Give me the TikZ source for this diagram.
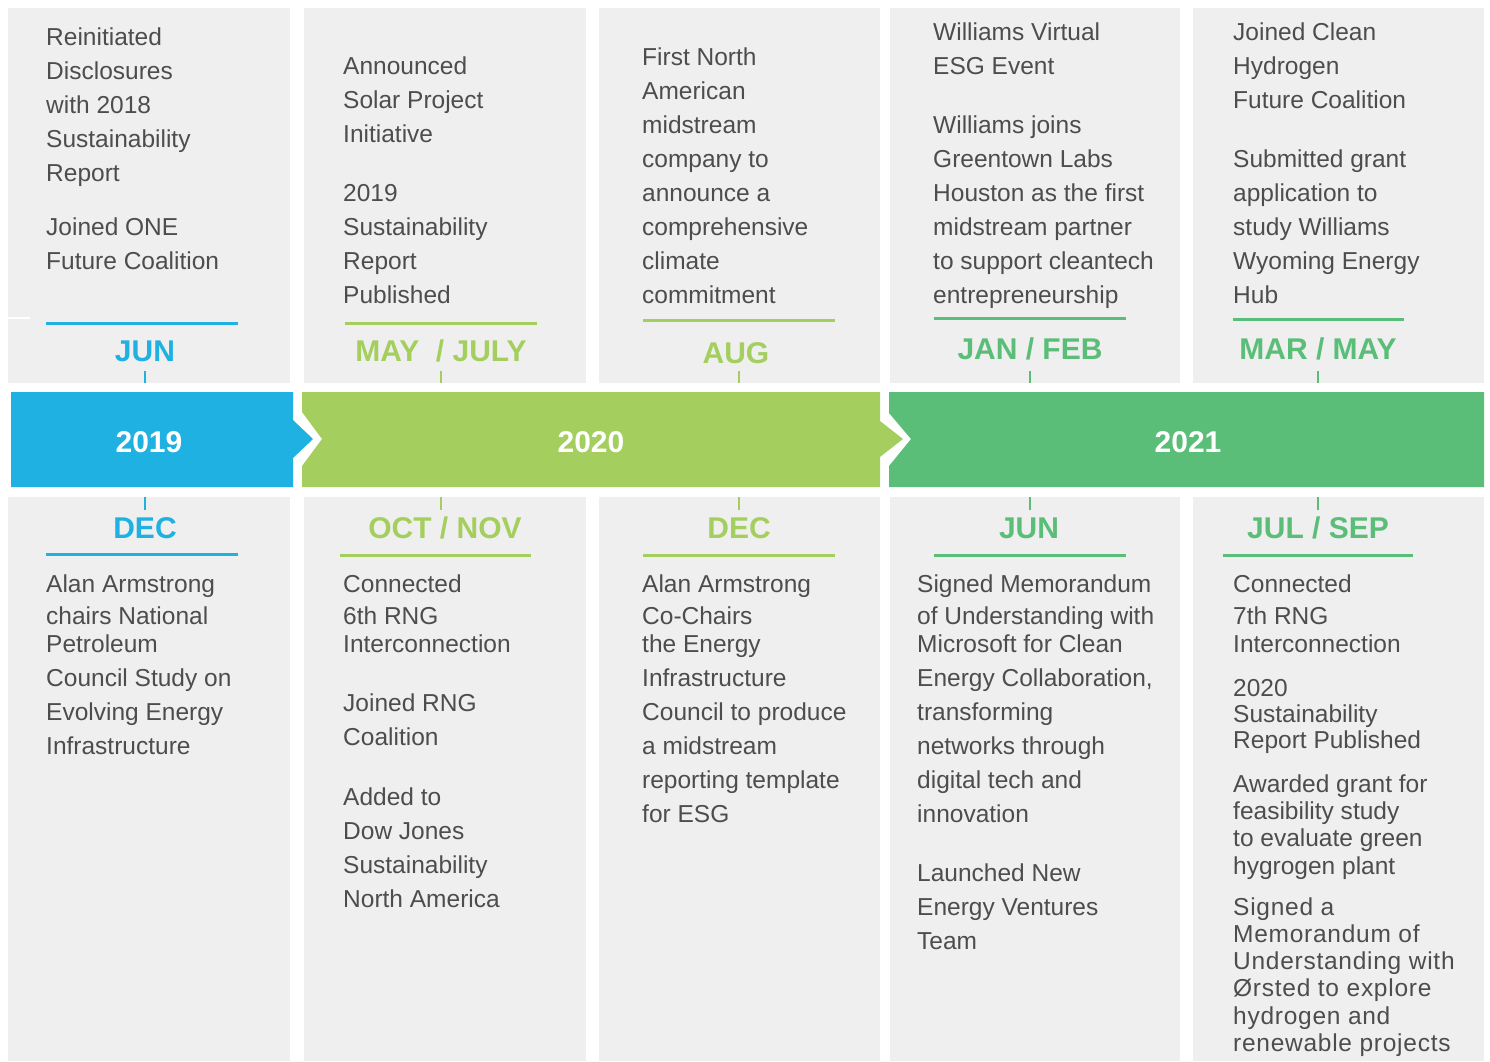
\documentclass[tikz,border=0pt]{standalone}
\usepackage{fontspec}
\setmainfont{Liberation Sans}
\newfontfamily\spacedfont[LetterSpace=3]{Liberation Sans}
\definecolor{panel}{HTML}{EFEFEF}
\definecolor{txtgray}{HTML}{4D4D4D}
\definecolor{cblue}{HTML}{1EB1E2}
\definecolor{clgreen}{HTML}{A4CF5F}
\definecolor{cdgreen}{HTML}{5BBE78}
\tikzset{
  txt/.style={anchor=base west, inner sep=0pt, text=txtgray, font=\fontsize{24.5}{30}\selectfont},
  stxt/.style={txt, font=\fontsize{24.5}{30}\spacedfont},
  month/.style={inner sep=0pt, font=\fontsize{30}{34}\selectfont\bfseries},
  year/.style={inner sep=0pt, text=white, font=\fontsize{30}{34}\selectfont\bfseries},
  rule/.style={line width=3pt},
  tick/.style={line width=2.5pt},
  pan/.style={fill=panel, draw=none}
}
\begin{document}
\begin{tikzpicture}[x=1pt,y=-1pt]
\useasboundingbox (0,0) rectangle (1490,1061);
% panels
\foreach \a/\b in {8/290, 304/586, 599/880, 890/1180, 1193/1484}{
  \fill[pan] (\a,8) rectangle (\b,383);
  \fill[pan] (\a,497) rectangle (\b,1061);
}
\draw[white, line width=2pt] (8,318) -- (30,318);
% timeline bar
\fill[cblue] (11,392) -- (293,392) -- (293,420) -- (313,439) -- (293,458) -- (293,487) -- (11,487) -- cycle;
\fill[clgreen] (302,392) -- (880,392) -- (880,421) -- (903,439) -- (880,457) -- (880,487) -- (302,487) -- (302,466) -- (322,439) -- (302,412) -- cycle;
\fill[cdgreen] (889,392) -- (1484,392) -- (1484,487) -- (889,487) -- (889,466) -- (911,439) -- (889,413) -- cycle;
\node[year] (y2019) at (149,442) {2019};
\node[year] (y2020) at (591,442) {2020};
\node[year] (y2021) at (1188,442) {2021};
% month labels top
\node[month, text=cblue] (m1t) at (145,351) {JUN};
\node[month, text=clgreen] (m2t) at (441,351) {MAY\ \ / JULY};
\node[month, text=clgreen] (m3t) at (736,353) {AUG};
\node[month, text=cdgreen] (m4t) at (1030,349) {JAN / FEB};
\node[month, text=cdgreen] (m5t) at (1318,349) {MAR / MAY};
% month labels bottom
\node[month, text=cblue] (m1b) at (145,528) {DEC};
\node[month, text=clgreen] (m2b) at (445,528) {OCT / NOV};
\node[month, text=clgreen] (m3b) at (739,528) {DEC};
\node[month, text=cdgreen] (m4b) at (1029,528) {JUN};
\node[month, text=cdgreen] (m5b) at (1318,528) {JUL / SEP};
% rules
\draw[rule, cblue] (46,323) -- (238,323);
\draw[rule, clgreen] (345,323) -- (537,323);
\draw[rule, clgreen] (643,320) -- (835,320);
\draw[rule, cdgreen] (934,318) -- (1126,318);
\draw[rule, cdgreen] (1233,319) -- (1404,319);
\draw[rule, cblue] (46,554) -- (238,554);
\draw[rule, clgreen] (340,555) -- (531,555);
\draw[rule, clgreen] (643,555) -- (835,555);
\draw[rule, cdgreen] (934,555) -- (1126,555);
\draw[rule, cdgreen] (1223,555) -- (1413,555);
% ticks
\foreach \x/\c in {145/cblue, 441/clgreen, 739/clgreen, 1030/cdgreen, 1318/cdgreen}{
  \draw[tick, \c] (\x,371) -- (\x,383);
  \draw[tick, \c] (\x,497) -- (\x,510);
}
% top texts
\foreach \y/\t in {37/Reinitiated, 71/Disclosures, 105/with 2018, 139/Sustainability, 173/Report, 227/Joined ONE, 261/Future Coalition}
  \node[txt, name=a1-\y] at (46,\y+8.5) {\t};
\foreach \y/\t in {66/Announced, 100/Solar Project, 134/Initiative, 193/2019, 227/Sustainability, 261/Report, 295/Published}
  \node[txt, name=a2-\y] at (343,\y+8.5) {\t};
\foreach \y/\t in {57/First North, 91/American, 125/midstream, 159/company to, 193/announce a, 227/comprehensive, 261/climate, 295/commitment}
  \node[txt, name=a3-\y] at (642,\y+8.5) {\t};
\foreach \y/\t in {32/Williams Virtual, 66/ESG Event, 125/Williams joins, 159/Greentown Labs, 193/Houston as the first, 227/midstream partner, 261/to support cleantech, 295/entrepreneurship}
  \node[txt, name=a4-\y] at (933,\y+8.5) {\t};
\foreach \y/\t in {32/Joined Clean, 66/Hydrogen, 100/Future Coalition, 159/Submitted grant, 193/application to, 227/study Williams, 261/Wyoming Energy, 295/Hub}
  \node[txt, name=a5-\y] at (1233,\y+8.5) {\t};
% bottom texts
\foreach \y/\t in {584/Alan Armstrong, 616/chairs National, 644/Petroleum, 678/Council Study on, 712/Evolving Energy, 746/Infrastructure}
  \node[txt, name=b1-\y] at (46,\y+8.5) {\t};
\foreach \y/\t in {584/Connected, 616/6th RNG, 644/Interconnection, 703/Joined RNG, 737/Coalition, 797/Added to, 831/Dow Jones, 865/Sustainability, 899/North America}
  \node[txt, name=b2-\y] at (343,\y+8.5) {\t};
\foreach \y/\t in {584/Alan Armstrong, 616/Co-Chairs, 644/the Energy, 678/Infrastructure, 712/Council to produce, 746/a midstream, 780/reporting template, 814/for ESG}
  \node[txt, name=b3-\y] at (642,\y+8.5) {\t};
\foreach \y/\t in {584/Signed Memorandum, 616/of Understanding with, 644/Microsoft for Clean, 678/{Energy Collaboration,}, 712/transforming, 746/networks through, 780/digital tech and, 814/innovation, 873/Launched New, 907/Energy Ventures, 941/Team}
  \node[txt, name=b4-\y] at (917,\y+8.5) {\t};
\foreach \y/\t in {584/Connected, 616/7th RNG, 644/Interconnection, 688/2020, 714/Sustainability, 740/Report Published, 784/Awarded grant for, 811/feasibility study, 838/to evaluate green, 866/hygrogen plant}
  \node[txt, name=b5-\y] at (1233,\y+8.5) {\t};
\foreach \y/\t in {907/Signed a, 934/Memorandum of, 961/Understanding with, 988/Ørsted to explore, 1016/hydrogen and, 1043/renewable projects}
  \node[stxt, name=c5-\y] at (1233,\y+8.5) {\t};
\end{tikzpicture}
\end{document}
